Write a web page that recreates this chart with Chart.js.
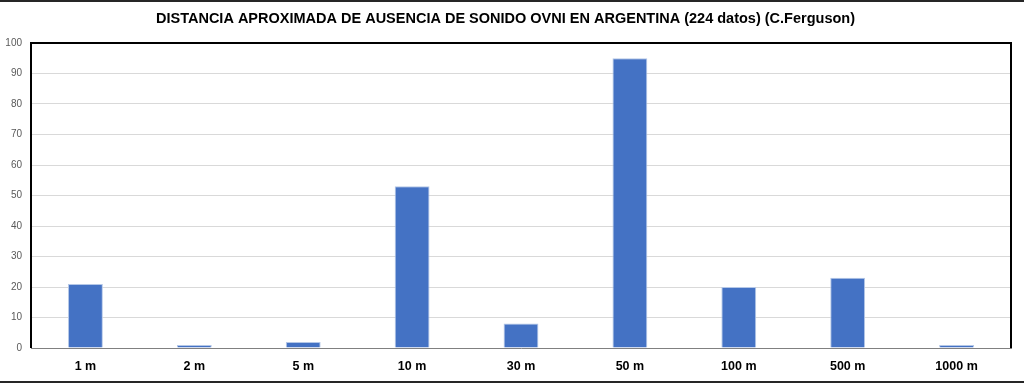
<!DOCTYPE html>
<html><head><meta charset="utf-8">
<script src="https://cdn.jsdelivr.net/npm/chart.js@4.4.1/dist/chart.umd.min.js"></script>
<style>html,body{margin:0;padding:0;background:#fff;}#wrap{width:1024px;height:383px;}</style>
</head><body><div id="wrap"><canvas id="c" width="1024" height="383"></canvas></div>
<script>
const categories = ['1 m','2 m','5 m','10 m','30 m','50 m','100 m','500 m','1000 m'];
const counts = [21, 1, 2, 53, 8, 95, 20, 23, 1];
const titleText = 'DISTANCIA APROXIMADA DE AUSENCIA DE SONIDO OVNI EN ARGENTINA (224 datos) (C.Ferguson)';

const framePlugin = {
  id: 'frame',
  afterDraw(chart) {
    const {ctx, chartArea: a} = chart;
    ctx.save();
    ctx.strokeStyle = '#000';
    ctx.lineWidth = 2;
    ctx.beginPath();
    ctx.moveTo(a.left, a.bottom); ctx.lineTo(a.left, a.top); ctx.lineTo(a.right, a.top); ctx.lineTo(a.right, a.bottom);
    ctx.stroke();
    ctx.strokeStyle = '#262626';
    ctx.beginPath();
    ctx.moveTo(0, 1); ctx.lineTo(chart.width, 1);
    ctx.moveTo(0, 382); ctx.lineTo(chart.width, 382);
    ctx.stroke();
    ctx.restore();
  }
};

new Chart(document.getElementById('c'), {
  type: 'bar',
  data: { labels: categories, datasets: [{ data: counts, backgroundColor: '#4472C4', borderColor: '#B4C7E7', borderWidth: 1, categoryPercentage: 1, barPercentage: 0.32 }] },
  options: {
    responsive: false, animation: false, devicePixelRatio: 1,
    layout: { padding: { left: 0, right: 13, top: 0, bottom: 0 } },
    plugins: {
      legend: { display: false }, tooltip: { enabled: false },
      title: { display: true, text: titleText, color: '#000', font: { family: 'Liberation Sans', size: 14.5, weight: 'bold' }, padding: { top: 10, bottom: 15.6 } }
    },
    scales: {
      x: {
        grid: { display: false, drawTicks: false },
        border: { display: true, color: '#808080', width: 1 },
        ticks: { color: '#000', font: { family: 'Liberation Sans', size: 12.5, weight: 'bold' }, padding: 11 },
        afterFit(s) { s.height = 35; }
      },
      y: {
        min: 0, max: 100,
        grid: { color: '#D9D9D9', drawTicks: false },
        border: { display: false },
        ticks: { stepSize: 10, color: '#595959', font: { family: 'Liberation Sans', size: 10 }, padding: 9 },
        afterFit(s) { s.width = 31; }
      }
    }
  },
  plugins: [framePlugin]
});
</script></body></html>
